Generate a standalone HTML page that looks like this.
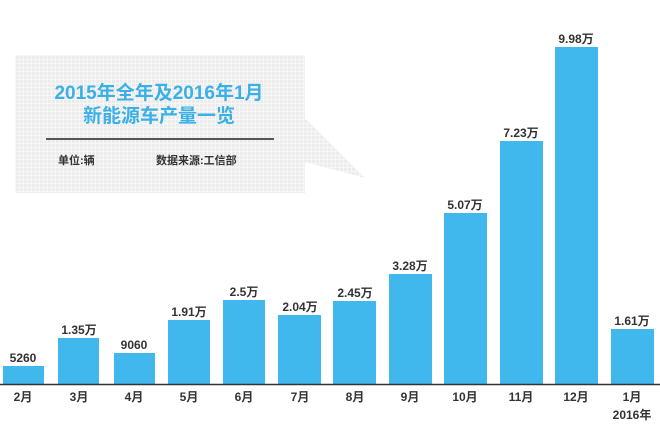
<!DOCTYPE html>
<html><head><meta charset="utf-8"><style>
html,body{margin:0;padding:0;background:#fff;}
svg{display:block;font-family:"Liberation Sans","Noto Sans CJK SC",sans-serif;font-weight:bold;}
</style></head><body>
<svg width="660" height="440" viewBox="0 0 660 440" xmlns="http://www.w3.org/2000/svg">
<defs>
<pattern id="dots" width="4" height="4" patternUnits="userSpaceOnUse">
<rect width="4" height="4" fill="#f7f7f7"/>
<rect width="3" height="3" fill="#ececec"/>
</pattern>
</defs>
<polygon points="15,55 305,55 305,118 365,178 305,162 305,193 15,193" fill="url(#dots)"/>
<text x="159" y="99" text-anchor="middle" font-size="19" fill="#3bb0e6">2015年全年及2016年1月</text>
<text x="159" y="122" text-anchor="middle" font-size="19" fill="#3bb0e6">新能源车产量一览</text>
<line x1="46" y1="139" x2="274" y2="139" stroke="#222" stroke-width="1.5"/>
<text x="58" y="164" font-size="11" fill="#333">单位:辆</text>
<text x="156" y="164" font-size="11" fill="#333">数据来源:工信部</text>
<g fill="#40b8ee">
<rect x="3" y="366" width="41" height="18"/>
<rect x="58" y="338" width="41" height="46"/>
<rect x="114" y="353" width="41" height="31"/>
<rect x="168" y="320" width="42" height="64"/>
<rect x="223" y="300" width="42" height="84"/>
<rect x="278" y="315" width="43" height="69"/>
<rect x="333" y="301" width="43" height="83"/>
<rect x="389" y="274" width="43" height="110"/>
<rect x="444" y="213" width="43" height="171"/>
<rect x="500" y="141" width="43" height="243"/>
<rect x="555" y="47" width="43" height="337"/>
<rect x="611" y="329" width="43" height="55"/>
</g>
<line x1="0" y1="384.5" x2="660" y2="384.5" stroke="#333" stroke-width="1.5"/>
<g font-size="12" fill="#333" text-anchor="middle">
<text x="23" y="362">5260</text>
<text x="79" y="334">1.35万</text>
<text x="134" y="349">9060</text>
<text x="189" y="316">1.91万</text>
<text x="244" y="296">2.5万</text>
<text x="300" y="311">2.04万</text>
<text x="355" y="297">2.45万</text>
<text x="410" y="270">3.28万</text>
<text x="465" y="209">5.07万</text>
<text x="521" y="137">7.23万</text>
<text x="576" y="43">9.98万</text>
<text x="632" y="325">1.61万</text>
</g>
<g font-size="12" fill="#333" text-anchor="middle">
<text x="23" y="401">2月</text>
<text x="79" y="401">3月</text>
<text x="134" y="401">4月</text>
<text x="189" y="401">5月</text>
<text x="244" y="401">6月</text>
<text x="300" y="401">7月</text>
<text x="355" y="401">8月</text>
<text x="410" y="401">9月</text>
<text x="465" y="401">10月</text>
<text x="521" y="401">11月</text>
<text x="576" y="401">12月</text>
<text x="632" y="401">1月</text>
<text x="632" y="419">2016年</text>
</g>
</svg>
</body></html>
